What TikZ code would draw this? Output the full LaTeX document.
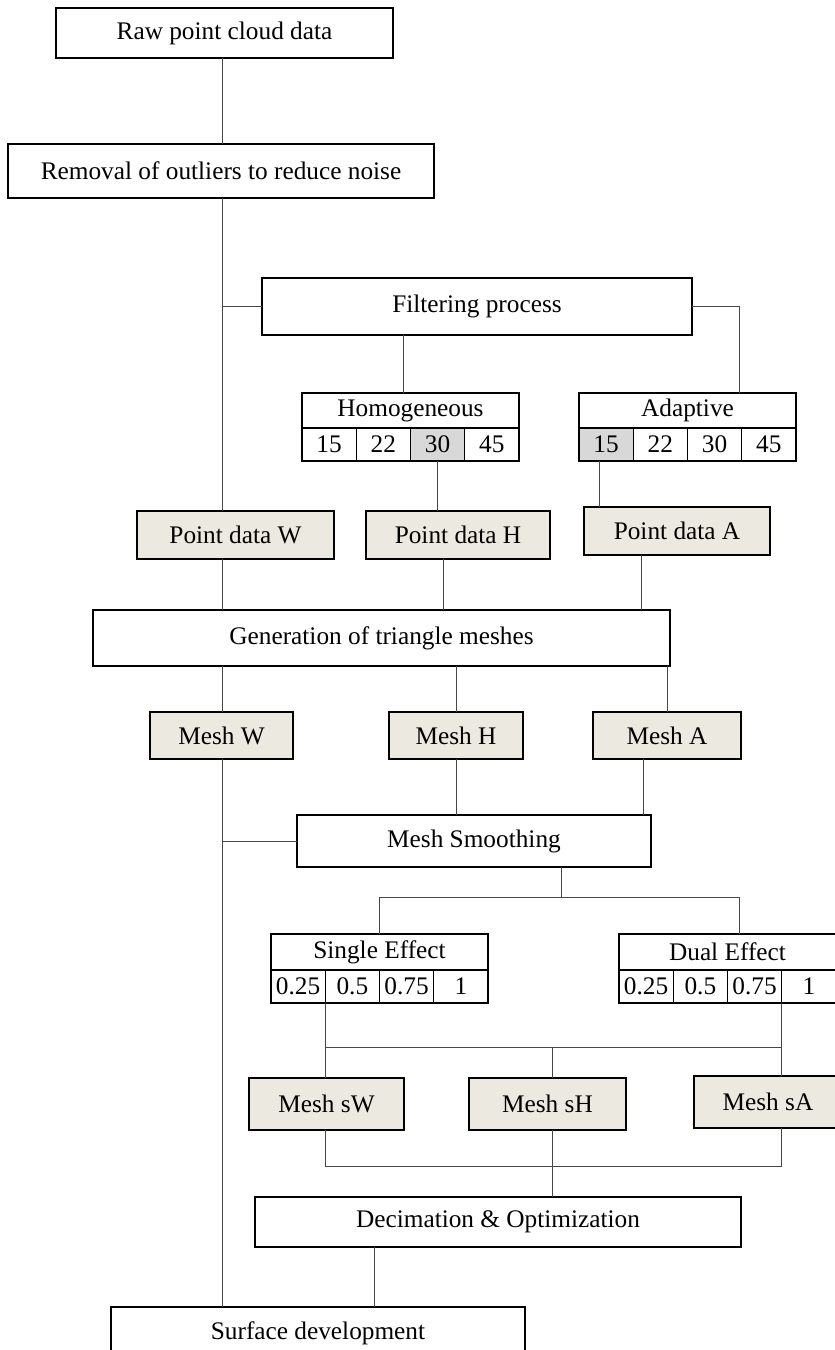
\documentclass[tikz,border=0pt]{standalone}
\usepackage{fontspec}
\setmainfont{Liberation Serif}
\usetikzlibrary{positioning}
\definecolor{ptfill}{RGB}{236,234,224}
\definecolor{cellgray}{RGB}{216,216,216}
\definecolor{linkgray}{RGB}{70,70,70}
\tikzset{
  stepbox/.style={draw, line width=2pt, inner sep=0pt, outer sep=0pt, fill=white},
  databox/.style={stepbox, fill=ptfill},
  headbox/.style={draw, line width=1.4pt, inner sep=0pt, outer sep=0pt, fill=white, minimum width=217pt},
  cellbox/.style={draw, line width=1.4pt, inner sep=0pt, outer sep=0pt, minimum width=54.25pt, minimum height=33pt, anchor=north west},
  link/.style={draw=linkgray, line width=1pt}
}
\begin{document}
\begin{tikzpicture}[x=1pt, y=-1pt, every node/.style={font=\fontsize{25.3pt}{30pt}\selectfont}]
\clip (0,0) rectangle (835,1350);
\fill [white] (0,0) rectangle (835,1350);
\node [stepbox, minimum width=337pt, minimum height=50pt] (raw) at (224.5,33) {Raw point cloud data};
\node [stepbox, minimum width=426pt, minimum height=54pt] (removal) at (221,171) {Removal of outliers to reduce noise};
\node [stepbox, minimum width=430pt, minimum height=57pt] (filter) at (477,306.5) {Filtering process};
\node [headbox, minimum height=35pt] (homog) at (410.5,410.5) {Homogeneous};
\node [headbox, minimum height=35pt] (adapt) at (687.5,410.5) {Adaptive};
\foreach \v/\c [count=\i] in {15/white,22/white,30/cellgray,45/white}
  \node [cellbox, fill=\c] (homog\i) at ([xshift={(\i-1)*54.25pt}]homog.south west) {\v};
\foreach \v/\c [count=\i] in {15/cellgray,22/white,30/white,45/white}
  \node [cellbox, fill=\c] (adapt\i) at ([xshift={(\i-1)*54.25pt}]adapt.south west) {\v};
\node [databox, minimum width=197pt, minimum height=48pt] (ptW) at (235.5,535) {Point data W};
\node [databox, minimum width=184pt, minimum height=48pt] (ptH) at (458,535) {Point data H};
\node [databox, minimum width=186pt, minimum height=48pt] (ptA) at (677,531) {Point data A};
\node [stepbox, minimum width=577pt, minimum height=56pt] (gen) at (381.5,638) {Generation of triangle meshes};
\node [databox, minimum width=143pt, minimum height=47pt] (meshW) at (221.5,735.5) {Mesh W};
\node [databox, minimum width=134pt, minimum height=47pt] (meshH) at (456,735.5) {Mesh H};
\node [databox, minimum width=148pt, minimum height=47pt] (meshA) at (667,735.5) {Mesh A};
\node [stepbox, minimum width=354pt, minimum height=52pt] (smooth) at (474,841) {Mesh Smoothing};
\node [headbox, minimum height=36pt] (single) at (379.5,952) {Single Effect};
\node [headbox, minimum height=36pt] (dual) at (727.5,952) {Dual Effect};
\foreach \v [count=\i] in {0.25,0.5,0.75,1}
  \node [cellbox] (single\i) at ([xshift={(\i-1)*54.25pt}]single.south west) {\v};
\foreach \v [count=\i] in {0.25,0.5,0.75,1}
  \node [cellbox] (dual\i) at ([xshift={(\i-1)*54.25pt}]dual.south west) {\v};
\node [databox, minimum width=155pt, minimum height=52pt] (meshsW) at (326.5,1104) {Mesh sW};
\node [databox, minimum width=157pt, minimum height=52pt] (meshsH) at (547.5,1104) {Mesh sH};
\node [databox, minimum width=148pt, minimum height=52pt] (meshsA) at (768,1102) {Mesh sA};
\node [stepbox, minimum width=486pt, minimum height=50pt] (decim) at (498,1222) {Decimation \& Optimization};
\node [stepbox, minimum width=414pt, minimum height=52pt] (surface) at (318,1333) {Surface development};
\coordinate (spine) at (222,0);
\coordinate (split) at (561,897);
\coordinate (topbar) at (0,1047);
\coordinate (lowbar) at (0,1166);
\draw [link] (raw.south -| spine) -- (removal.north -| spine);
\draw [link] (removal.south -| spine) -- (ptW.north -| spine);
\draw [link] (spine |- filter.west) -- (filter.west);
\draw [link] ([xshift=-7.5pt]homog.north) -- ([xshift=-7.5pt]homog.north |- filter.south);
\draw [link] (filter.east) -| ([xshift=51.5pt]adapt.north);
\draw [link] (homog3.south) -- (homog3.south |- ptH.north);
\draw [link] ([xshift=-7pt]adapt1.south) -- ([xshift=-7pt]adapt1.south |- ptA.north);
\draw [link] (ptW.south -| spine) -- (gen.north -| spine);
\draw [link] ([xshift=-15pt]ptH.south) -- ([xshift=-15pt]ptH.south |- gen.north);
\draw [link] ([xshift=-36pt]ptA.south) -- ([xshift=-36pt]ptA.south |- gen.north);
\draw [link] (gen.south -| spine) -- (meshW.north -| spine);
\draw [link] (gen.south -| meshH.north) -- (meshH.north);
\draw [link] (gen.south -| meshA.north) -- (meshA.north);
\draw [link] (meshW.south -| spine) -- (surface.north -| spine);
\draw [link] (spine |- smooth.west) -- (smooth.west);
\draw [link] (meshH.south) -- (meshH.south |- smooth.north);
\draw [link] ([xshift=-24pt]meshA.south) -- ([xshift=-24pt]meshA.south |- smooth.north);
\draw [link] (split |- smooth.south) -- (split);
\draw [link] (single.north) |- (split) -| ([xshift=11.5pt]dual.north);
\draw [link] (single1.south east) -- (single1.south east |- meshsW.north);
\draw [link] (dual3.south east) -- (dual3.south east |- meshsA.north);
\draw [link] (single1.south east |- topbar) -- (dual3.south east |- topbar);
\draw [link] ([xshift=4.5pt]meshsH.north |- topbar) -- ([xshift=4.5pt]meshsH.north);
\draw [link] (single1.south east |- meshsW.south) -- (single1.south east |- lowbar) -- (dual3.south east |- lowbar) -- (dual3.south east |- meshsA.south);
\draw [link] ([xshift=4.5pt]meshsH.south) -- ([xshift=4.5pt]meshsH.south |- decim.north);
\draw [link] ([xshift=-124pt]decim.south) -- ([xshift=-124pt]decim.south |- surface.north);
\end{tikzpicture}
\end{document}
